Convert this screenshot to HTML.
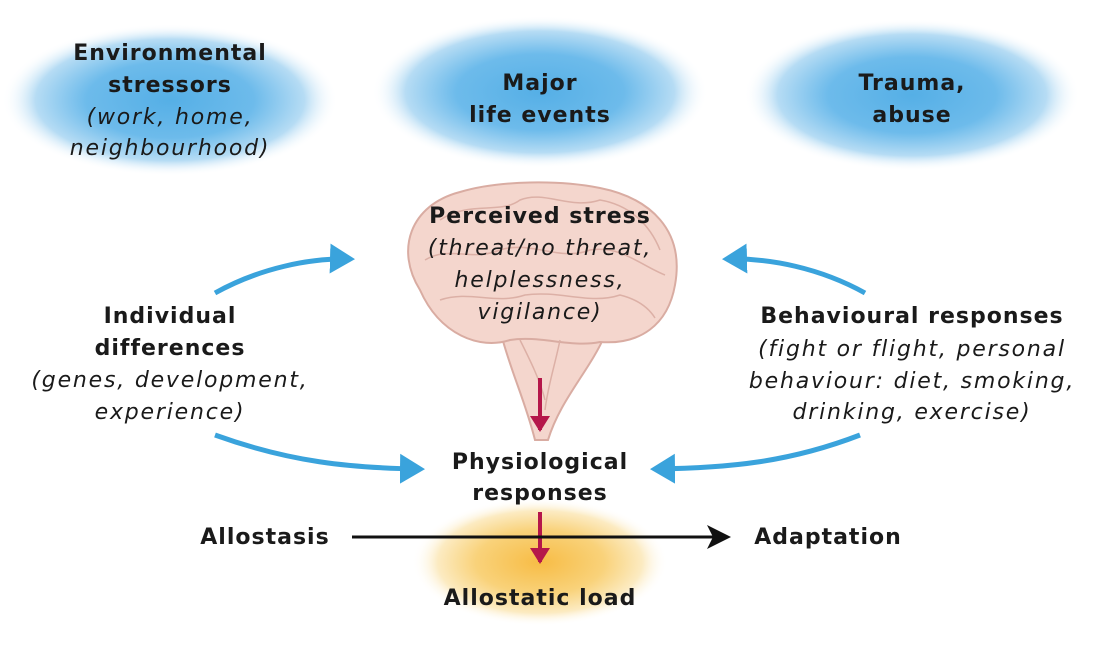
<!DOCTYPE html>
<html><head><meta charset="utf-8"><style>
html,body{margin:0;padding:0;background:#fff;}
svg{display:block;}
text{font-family:"DejaVu Sans","Liberation Sans",sans-serif;font-size:22px;fill:#1a1a1a;text-anchor:middle;}
.b{font-weight:bold;letter-spacing:1px;}
.i{font-style:italic;font-size:22px;letter-spacing:1.8px;}
</style></head><body>
<svg width="1115" height="647" viewBox="0 0 1115 647" xmlns="http://www.w3.org/2000/svg">
<defs>
<radialGradient id="bl" cx="50%" cy="50%" r="50%">
<stop offset="0" stop-color="#55afe6"/>
<stop offset="0.5" stop-color="#6dbbeb"/>
<stop offset="0.8" stop-color="#b6dcf4"/>
<stop offset="1" stop-color="#ffffff" stop-opacity="0"/>
</radialGradient>
<radialGradient id="yl" cx="50%" cy="50%" r="50%">
<stop offset="0" stop-color="#f7bc45"/>
<stop offset="0.5" stop-color="#f9d27a"/>
<stop offset="0.8" stop-color="#fcebc2"/>
<stop offset="1" stop-color="#ffffff" stop-opacity="0"/>
</radialGradient>
<marker id="ab" markerWidth="6" markerHeight="6" refX="4" refY="3" orient="auto" markerUnits="strokeWidth">
<path d="M0,0 L5,3 L0,6 Z" fill="#3aa3dc"/></marker>
<marker id="ar" markerWidth="5" markerHeight="5" refX="3.5" refY="2.5" orient="auto" markerUnits="strokeWidth">
<path d="M0,0 L4,2.5 L0,5 Z" fill="#b5174a"/></marker>
<marker id="ak" markerWidth="8" markerHeight="8" refX="7" refY="4" orient="auto" markerUnits="strokeWidth">
<path d="M0,0 L8,4 L0,8 L2,4 Z" fill="#111"/></marker>
</defs>
<ellipse cx="170" cy="100" rx="168" ry="76" fill="url(#bl)"/>
<ellipse cx="540" cy="92" rx="168" ry="76" fill="url(#bl)"/>
<ellipse cx="912" cy="95" rx="168" ry="76" fill="url(#bl)"/>
<ellipse cx="540" cy="562" rx="128" ry="64" fill="url(#yl)"/>
<!-- brain -->
<g fill="#f4d6cd" stroke="#d9aca2" stroke-width="2">
<path d="M500,330 C510,370 525,400 535,440 L548,440 C560,400 590,370 605,335 Z"/>
<path d="M420,290 C395,250 410,205 460,192 C500,180 560,180 600,188 C650,198 685,230 675,285 C668,325 640,345 600,342 C570,348 540,335 510,340 C480,350 440,335 420,290 Z"/>
</g>
<g fill="none" stroke="#dcb0a6" stroke-width="1.5">
<path d="M440,220 C470,200 500,215 520,200 C545,190 570,210 600,200 C630,205 650,225 660,250"/>
<path d="M425,260 C450,245 470,262 500,250 C530,240 560,262 590,250 C620,245 640,265 665,275"/>
<path d="M440,300 C470,290 495,305 525,295 C560,290 590,305 620,295 C640,300 650,310 655,318"/>
<path d="M520,340 C530,360 540,380 545,400"/>
<path d="M560,340 C555,365 548,385 545,410"/>
</g>
<!-- text -->
<text class="b" x="170" y="60">Environmental</text>
<text class="b" x="170" y="92">stressors</text>
<text class="i" x="170" y="124">(work, home,</text>
<text class="i" x="170" y="155">neighbourhood)</text>
<text class="b" x="540" y="90">Major</text>
<text class="b" x="540" y="122">life events</text>
<text class="b" x="912" y="90">Trauma,</text>
<text class="b" x="912" y="122">abuse</text>
<text class="b" x="540" y="223">Perceived stress</text>
<text class="i" x="540" y="255">(threat/no threat,</text>
<text class="i" x="540" y="287">helplessness,</text>
<text class="i" x="540" y="319">vigilance)</text>
<text class="b" x="170" y="323">Individual</text>
<text class="b" x="170" y="355">differences</text>
<text class="i" x="170" y="387">(genes, development,</text>
<text class="i" x="170" y="419">experience)</text>
<text class="b" x="912" y="323">Behavioural responses</text>
<text class="i" x="912" y="356">(fight or flight, personal</text>
<text class="i" x="912" y="388">behaviour: diet, smoking,</text>
<text class="i" x="912" y="419">drinking, exercise)</text>
<text class="b" x="540" y="469">Physiological</text>
<text class="b" x="540" y="500">responses</text>
<text class="b" x="265" y="544">Allostasis</text>
<text class="b" x="828" y="544">Adaptation</text>
<text class="b" x="540" y="605">Allostatic load</text>
<!-- arrows -->
<g fill="none" stroke="#3aa3dc" stroke-width="5">
<path d="M215,293 C260,268 310,258 350,259" marker-end="url(#ab)"/>
<path d="M215,435 C290,462 350,468 420,469" marker-end="url(#ab)"/>
<path d="M865,293 C820,268 770,258 727,259" marker-end="url(#ab)"/>
<path d="M860,435 C790,462 730,468 655,469" marker-end="url(#ab)"/>
</g>
<line x1="540" y1="378" x2="540" y2="430" stroke="#b5174a" stroke-width="4" marker-end="url(#ar)"/>
<line x1="540" y1="512" x2="540" y2="562" stroke="#b5174a" stroke-width="4" marker-end="url(#ar)"/>
<line x1="352" y1="537" x2="728" y2="537" stroke="#111" stroke-width="3" marker-end="url(#ak)"/>
</svg>
</body></html>
